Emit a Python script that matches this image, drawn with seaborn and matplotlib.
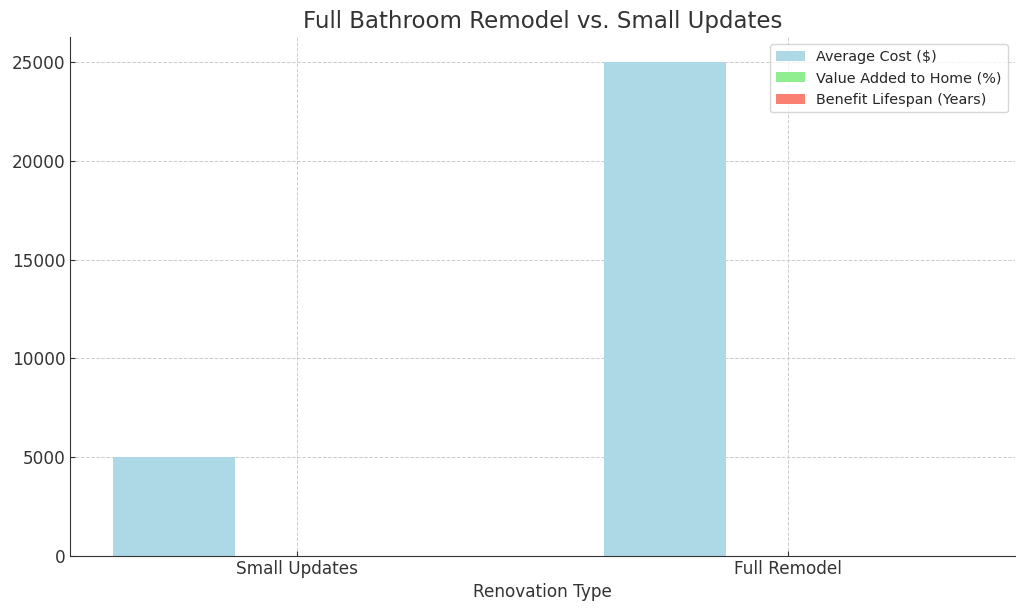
import pandas as pd
import matplotlib
matplotlib.use('Agg')
import matplotlib.pyplot as plt
import seaborn as sns

# Data (the last two series are too small to see)
renovation_types = ['Small Updates', 'Full Remodel']
average_cost = [5000, 25000]
value_added = [5, 15]
benefit_lifespan = [5, 20]

series_names = ['Average Cost ($)', 'Value Added to Home (%)', 'Benefit Lifespan (Years)']
palette = ['lightblue', 'lightgreen', 'salmon']

# Long table for seaborn
df = pd.DataFrame({
    'Renovation Type': renovation_types * 3,
    'Metric': [series_names[0]] * 2 + [series_names[1]] * 2 + [series_names[2]] * 2,
    'Value': average_cost + value_added + benefit_lifespan,
})

sns.set_style('ticks')
plt.rcParams['font.family'] = ['DejaVu Sans']

fig, ax = plt.subplots(figsize=(10.24, 6.11), dpi=100)
sns.barplot(data=df, x='Renovation Type', y='Value', hue='Metric',
            palette=palette, width=0.75, errorbar=None, saturation=1,
            linewidth=0, ax=ax)

ax.set_title('Full Bathroom Remodel vs. Small Updates', fontsize=16.5, color='#333333', pad=7)
ax.set_xlabel('Renovation Type', fontsize=12.2, color='#333333', labelpad=3.5)
ax.set_ylabel('')
ax.tick_params(labelsize=12.2, colors='#333333', direction='in', length=3.5, pad=3)
ax.set_xlim(-0.4625, 1.4625)
ax.set_ylim(0, 26250)
ax.grid(True, which='both', linestyle='--', linewidth=0.7, color='#cccccc')
ax.set_axisbelow(True)
sns.despine(ax=ax)
for s in ['left', 'bottom']:
    ax.spines[s].set_color('#333333')

ax.legend(title=None, loc='upper right', fontsize=10.4)

fig.subplots_adjust(left=0.068, right=0.991, top=0.939, bottom=0.090)
plt.savefig('out.png', dpi=100)
